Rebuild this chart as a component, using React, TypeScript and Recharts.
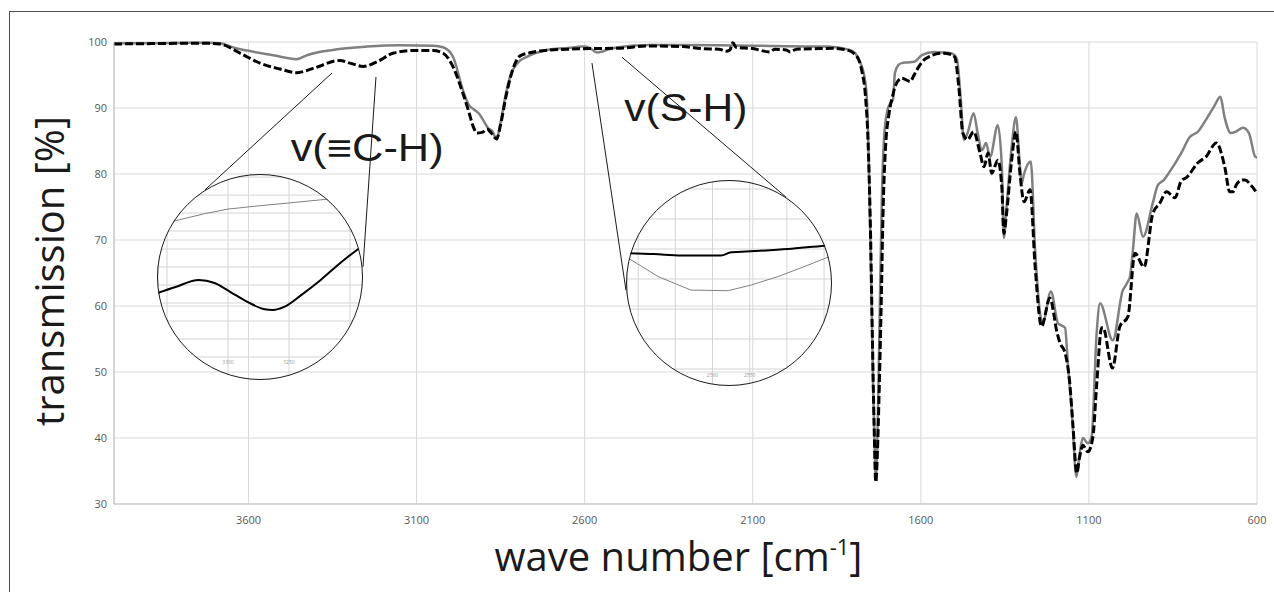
import React from 'react';
import { LineChart, Line, XAxis, YAxis, CartesianGrid, ReferenceLine, ReferenceDot, Label } from 'recharts';

// ---------- main spectrum data: [wave number cm-1, transmission %] ----------
const X_TICKS = [3600, 3100, 2600, 2100, 1600, 1100, 600];
const Y_TICKS = [30, 40, 50, 60, 70, 80, 90, 100];

const GRAY_SPECTRUM: [number, number][] = [
  [4000, 99.8], [3900, 99.8], [3800, 99.85], [3720, 99.9], [3685, 99.8], [3640, 99.1], [3604, 98.7],
  [3527, 98.0], [3456, 97.4], [3426, 98.0], [3349, 98.8], [3247, 99.3], [3149, 99.5], [3051, 99.45],
  [3021, 99.2], [2992, 97.8], [2962, 92.7], [2945, 90.5], [2930, 89.8], [2915, 89.2], [2900, 88.0],
  [2888, 87.0], [2875, 86.5], [2862, 85.3], [2850, 87.8], [2835, 92.0], [2820, 95.0], [2800, 96.8],
  [2770, 97.8], [2740, 98.4], [2700, 98.9], [2650, 99.1], [2605, 99.3], [2585, 99.1], [2563, 98.4],
  [2545, 98.6], [2534, 98.8], [2500, 99.2], [2406, 99.55], [2308, 99.55], [2200, 99.5], [2100, 99.45],
  [2000, 99.35], [1879, 99.3], [1811, 98.8], [1795, 98.3], [1781, 97.0], [1766, 94.2], [1760, 91],
  [1754, 80], [1748, 65], [1742, 48], [1737, 38], [1734, 34.0], [1730, 38], [1726, 48], [1722, 60],
  [1716, 76], [1710, 85], [1700, 89.5], [1690, 90.8], [1683, 91.2], [1677, 95.3], [1667, 96.5],
  [1657, 96.8], [1640, 96.9], [1620, 97.0], [1597, 98.0], [1560, 98.5], [1530, 98.4], [1510, 98.3],
  [1493, 97.5], [1481, 91.2], [1472, 85.2], [1461, 86.2], [1443, 89.2], [1431, 86.2], [1418, 83.6],
  [1406, 84.7], [1394, 82.6], [1371, 87.4], [1359, 81.1], [1353, 70.3], [1345, 75], [1330, 84],
  [1317, 88.6], [1305, 81], [1300, 78.6], [1293, 80.0], [1273, 81.9], [1260, 68.5], [1241, 57.8],
  [1237, 57.6], [1213, 62.2], [1192, 57.4], [1171, 56.7], [1162, 50.8], [1151, 44.2], [1137, 34.1],
  [1128, 37.5], [1118, 40.0], [1103, 39.2], [1092, 40.2], [1077, 55.9], [1067, 60.4], [1029, 54.8],
  [999, 62.4], [993, 62.9], [984, 63.7], [978, 64.4], [969, 68.5], [958, 74.0], [939, 70.5],
  [910, 75.6], [895, 78.3], [877, 79.1], [863, 80.1], [825, 83.2], [800, 85.6], [776, 86.4],
  [752, 88.2], [728, 90.2], [709, 91.7], [696, 88.5], [678, 86.2], [660, 86.5], [642, 87.0],
  [624, 86.2], [605, 82.6], [600, 82.5],
];

const BLACK_SPECTRUM: [number, number][] = [
  [4000, 99.7], [3900, 99.75], [3800, 99.8], [3720, 99.8], [3685, 99.7], [3625, 98.3], [3566, 96.8],
  [3506, 95.9], [3456, 95.35], [3408, 96.0], [3328, 97.2], [3298, 96.8], [3259, 96.3], [3218, 97.0],
  [3170, 98.3], [3111, 98.7], [3051, 98.7], [3021, 98.3], [2992, 96.3], [2962, 92.2], [2945, 89.5],
  [2930, 87.0], [2920, 86.2], [2905, 86.3], [2890, 86.8], [2878, 86.2], [2862, 85.3], [2850, 87.5],
  [2835, 91.5], [2820, 94.8], [2792, 97.9], [2760, 98.4], [2703, 98.8], [2650, 98.9], [2584, 99.0],
  [2504, 99.05], [2406, 99.4], [2308, 99.3], [2250, 99.0], [2200, 98.9], [2180, 98.6], [2168, 98.8],
  [2159, 99.9], [2150, 99.2], [2100, 99.0], [2049, 98.5], [2035, 98.9], [2000, 98.8], [1989, 98.5],
  [1970, 98.9], [1900, 99.0], [1861, 99.05], [1820, 98.8], [1790, 97.8], [1775, 95.5], [1765, 92],
  [1757, 85], [1750, 72], [1744, 55], [1739, 42], [1734, 33.3], [1729, 38], [1724, 47], [1718, 60],
  [1712, 75], [1705, 84], [1695, 89], [1683, 92], [1677, 93.2], [1657, 94.5], [1645, 94.3],
  [1632, 94.0], [1620, 95.0], [1609, 96.0], [1585, 97.5], [1534, 98.3], [1510, 98.1], [1499, 97.7],
  [1487, 93.2], [1475, 86.2], [1461, 85.2], [1443, 86.4], [1424, 83.2], [1412, 81.1], [1400, 83.2],
  [1389, 80.1], [1371, 82.1], [1359, 78.0], [1353, 71.0], [1345, 74], [1330, 82], [1317, 86.4],
  [1305, 80], [1293, 75.8], [1275, 77.6], [1260, 66], [1241, 56.9], [1216, 61.2], [1195, 56],
  [1186, 54.4], [1171, 52.9], [1157, 48.3], [1148, 42.3], [1136, 34.7], [1128, 37], [1118, 38.9],
  [1103, 37.9], [1088, 40.2], [1077, 48], [1062, 56.7], [1058, 56.7], [1030, 50.6], [1008, 56.9],
  [984, 58.4], [963, 68.0], [936, 65.9], [910, 74.0], [889, 75.6], [869, 77.3], [844, 76.4],
  [825, 79.0], [809, 79.5], [776, 81.7], [752, 82.6], [721, 84.7], [696, 81.1], [681, 77.3],
  [672, 77.3], [660, 78.5], [642, 79.1], [636, 79.1], [618, 78.3], [600, 77.1],
];

// ---------- inset data (zoomed views, y in grid steps) ----------
const INSET_CH_X_TICKS = [3350, 3300, 3250, 3200];
const INSET_CH_X_LABELS = [3300, 3250];
const INSET_CH_Y_TICKS = [0, 1, 2, 3, 4, 5, 6, 7, 8, 9, 10];
const INSET_CH_GRAY: [number, number][] = [
  [3358, 7.45], [3344, 7.56], [3320, 7.95], [3300, 8.22], [3275, 8.4], [3250, 8.56], [3217, 8.78], [3188, 8.95],
];
const INSET_CH_BLACK: [number, number][] = [
  [3358, 3.55], [3343, 3.89], [3324, 4.28], [3311, 4.11], [3298, 3.61], [3284, 3.06], [3271, 2.67],
  [3263, 2.61], [3254, 2.78], [3240, 3.44], [3224, 4.28], [3207, 5.28], [3192, 6.06], [3188, 6.25],
];

const INSET_SH_X_TICKS = [2580, 2570, 2560, 2550, 2540, 2530];
const INSET_SH_X_LABELS = [2560, 2550];
const INSET_SH_Y_TICKS = [0, 1, 2, 3, 4, 5, 6];
const INSET_SH_GRAY: [number, number][] = [
  [2583, 3.72], [2574.6, 3.08], [2565.8, 2.63], [2555.8, 2.61], [2549.6, 2.8], [2542.4, 3.08],
  [2535.4, 3.41], [2528.7, 3.74], [2527.5, 3.8],
];
const INSET_SH_BLACK: [number, number][] = [
  [2583, 3.86], [2575.7, 3.83], [2568.4, 3.78], [2557.7, 3.78], [2555, 3.89], [2548.8, 3.93],
  [2539.7, 4.0], [2529.7, 4.11], [2527.5, 4.13],
];

// ---------- annotations (data coordinates) ----------
const BAND_LABELS = [
  { text: 'v(≡C-H)', wn: 3247, t: 83.9, width: 153 },
  { text: 'v(S-H)', wn: 2299, t: 90.0, width: 123 },
];
const CONNECTORS: [number, number, number, number][] = [
  [3351.6, 95.3, 3729.3, 77.6],
  [3220.7, 94.7, 3259.4, 65.9],
  [2578.2, 96.8, 2477.1, 62.4],
  [2489.0, 97.7, 2001.2, 76.5],
];

const rows = (pairs: [number, number][]) => pairs.map(([wn, t]) => ({ wn, t }));

const TICK_FONT = { fontFamily: 'Open Sans, sans-serif', fontSize: 11, fill: '#595959' };

type InsetProps = {
  left: number; top: number; size: number;
  xDomain: [number, number]; yDomain: [number, number];
  xTicks: number[]; xLabels: number[]; yTicks: number[];
  gray: [number, number][]; black: [number, number][];
  labelY: number;
};

function Inset(p: InsetProps) {
  const renderTick = (props: any) => {
    const v = props.payload?.value;
    if (!p.xLabels.includes(v)) return <g />;
    return (
      <text x={props.x} y={p.labelY} fontSize={5} fill="#9a9a9a" textAnchor="middle" fontFamily="Open Sans, sans-serif">
        {v}
      </text>
    );
  };
  const noTick = () => <g />;
  return (
    <>
      <div style={{ position: 'absolute', left: p.left, top: p.top, width: p.size, height: p.size, borderRadius: '50%', overflow: 'hidden' }}>
        <LineChart width={p.size + 1} height={p.size + 1} margin={{ top: 0, right: 0, bottom: 0, left: 0 }}>
          <CartesianGrid stroke="#d4d4d4" strokeWidth={1} />
          <XAxis type="number" dataKey="wn" domain={p.xDomain} reversed ticks={p.xTicks} allowDataOverflow
            axisLine={false} tickLine={false} height={1} tick={renderTick} interval={0} />
          <YAxis type="number" domain={p.yDomain} ticks={p.yTicks} allowDataOverflow width={1} interval={0}
            axisLine={false} tickLine={false} tick={noTick} />
          <Line data={rows(p.gray)} dataKey="t" type="linear" stroke="#808080" strokeWidth={1}
            dot={false} activeDot={false} isAnimationActive={false} />
          <Line data={rows(p.black)} dataKey="t" type="monotone" stroke="#000" strokeWidth={2}
            dot={false} activeDot={false} isAnimationActive={false} />
        </LineChart>
      </div>
      <div style={{ position: 'absolute', left: p.left, top: p.top, width: p.size, height: p.size, borderRadius: '50%', border: '1.3px solid #1a1a1a', boxSizing: 'border-box' }} />
    </>
  );
}

export default function App() {
  return (
    <div style={{ position: 'absolute', left: 0, top: 0, width: 1274, height: 592, overflow: 'hidden', background: '#fff' }}>
      <div style={{ position: 'absolute', left: 9, top: 11, width: 1300, height: 620, border: '1.5px solid #4d4d4d' }} />
      <div style={{ position: 'absolute', left: 0, top: 0 }}>
        <LineChart width={1274} height={592} margin={{ top: 42, right: 17, bottom: 0, left: 54 }}>
          <CartesianGrid stroke="#d9d9d9" strokeWidth={1} />
          <XAxis type="number" dataKey="wn" domain={[600, 4000]} reversed ticks={X_TICKS} interval={0}
            allowDataOverflow height={88} axisLine={{ stroke: '#bfbfbf' }} tickLine={false}
            tickSize={0} tickMargin={12} tick={TICK_FONT}>
            <Label content={(props: any) => {
              const vb = props.viewBox;
              return (
                <text x={vb.x + vb.width / 2 - 7} y={vb.y + 67} textAnchor="middle" fontFamily="Open Sans, sans-serif" fontSize={40} fill="#1a1a1a">
                  wave number [cm<tspan dy={-16} fontSize={22}>-1</tspan><tspan dy={16}>]</tspan>
                </text>
              );
            }} />
          </XAxis>
          <YAxis type="number" domain={[30, 100]} ticks={Y_TICKS} interval={0} width={60}
            axisLine={{ stroke: '#bfbfbf' }} tickLine={false} tickSize={0} tickMargin={7} tick={TICK_FONT}>
            <Label content={(props: any) => {
              const vb = props.viewBox;
              const cx = vb.x - 6;
              const cy = vb.y + vb.height / 2 - 2;
              return (
                <text x={cx} y={cy} transform={`rotate(-90 ${cx} ${cy})`} textAnchor="middle" dominantBaseline="central"
                  fontFamily="Open Sans, sans-serif" fontSize={40} fill="#1a1a1a">
                  transmission [%]
                </text>
              );
            }} />
          </YAxis>
          {CONNECTORS.map((c, i) => (
            <ReferenceLine key={`c${i}`} segment={[{ x: c[0], y: c[1] }, { x: c[2], y: c[3] }]}
              stroke="#1a1a1a" strokeWidth={1} ifOverflow="visible" />
          ))}
          <Line data={rows(GRAY_SPECTRUM)} dataKey="t" type="monotone" stroke="#808080" strokeWidth={2.5}
            dot={false} activeDot={false} isAnimationActive={false} />
          <Line data={rows(BLACK_SPECTRUM)} dataKey="t" type="monotone" stroke="#000" strokeWidth={3}
            strokeDasharray="8 3" dot={false} activeDot={false} isAnimationActive={false} />
          {BAND_LABELS.map((b, i) => (
            <ReferenceDot key={`b${i}`} x={b.wn} y={b.t} r={1} fill="none" stroke="none" ifOverflow="visible"
              label={{
                content: (props: any) => {
                  const vb = props.viewBox;
                  const cx = vb.x + (vb.width || 0) / 2;
                  const cy = vb.y + (vb.height || 0) / 2;
                  return (
                    <text x={cx} y={cy} textAnchor="middle" dominantBaseline="central" fontFamily="Liberation Sans, Arial, sans-serif"
                      fontSize={38} fill="#1a1a1a" textLength={b.width} lengthAdjust="spacingAndGlyphs">
                      {b.text}
                    </text>
                  );
                },
              }} />
          ))}
        </LineChart>
      </div>
      <Inset left={157} top={174} size={206} xDomain={[3188.5, 3357.4]} yDomain={[-1.28, 10.17]}
        xTicks={INSET_CH_X_TICKS} xLabels={INSET_CH_X_LABELS} yTicks={INSET_CH_Y_TICKS}
        gray={INSET_CH_GRAY} black={INSET_CH_BLACK} labelY={190} />
      <Inset left={626} top={180} size={206} xDomain={[2527.6, 2583.0]} yDomain={[-0.567, 6.3]}
        xTicks={INSET_SH_X_TICKS} xLabels={INSET_SH_X_LABELS} yTicks={INSET_SH_Y_TICKS}
        gray={INSET_SH_GRAY} black={INSET_SH_BLACK} labelY={197} />
    </div>
  );
}
